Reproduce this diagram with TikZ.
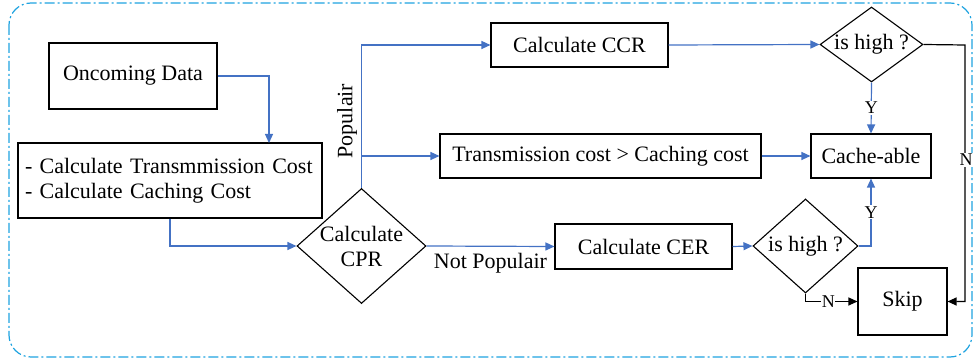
\documentclass[tikz,border=0pt]{standalone}
\usepackage{fontspec}
\setmainfont{Liberation Serif}
\usetikzlibrary{arrows.meta,shapes.geometric}
\definecolor{lineblue}{HTML}{4472C4}
\definecolor{frameblue}{HTML}{1FA3E0}
\tikzset{
  box/.style={draw=black, line width=1.1pt, rectangle, inner sep=0pt, font=\fontsize{22}{25}\selectfont},
  dia/.style={draw=black, line width=1.1pt, diamond, inner sep=0pt, shape aspect=1},
  txt/.style={font=\fontsize{22}{25}\selectfont, align=center, inner sep=0pt},
  yn/.style={font=\fontsize{18}{20}\selectfont, fill=white, inner sep=1pt},
  bl/.style={draw=lineblue, line width=1.2pt, -{Triangle[length=9pt,width=8pt]}},
  bk/.style={draw=black, line width=1.2pt, -{Triangle[length=9pt,width=8pt]}},
}
\begin{document}
\begin{tikzpicture}[x=1pt,y=-1pt]
\useasboundingbox (0,0) rectangle (975,363);
\draw[frameblue, line width=1.2pt, rounded corners=22pt, dash pattern=on 10pt off 3pt on 2pt off 3pt] (9,3) rectangle (972,357);

\node[box, minimum width=168pt, minimum height=66pt] (od) at (133,76) {Oncoming Data};
\node[box, minimum width=304pt, minimum height=75pt, align=left, text width=290pt] (cc) at (170,180.5) {- Calculate Transmmission Cost\\- Calculate Caching Cost};
\node[dia, minimum width=129pt, minimum height=115pt] (cpr) at (361.5,246) {};
\node[txt] (cprt) at (cpr) {Calculate\\CPR};
\node[box, minimum width=177pt, minimum height=44pt] (ccr) at (579.5,45) {Calculate CCR};
\node[box, minimum width=321pt, minimum height=44pt] (tc) at (600.5,156) {Transmission cost > Caching cost};
\node[box, minimum width=177pt, minimum height=45pt] (cer) at (643.5,246.5) {Calculate CER};
\node[dia, minimum width=103pt, minimum height=75pt] (h1) at (871.5,44.5) {};
\node[txt] (h1t) at (h1) {is high ?};
\node[box, minimum width=120pt, minimum height=44pt] (ca) at (871,156) {Cache-able};
\node[dia, minimum width=105pt, minimum height=94pt] (h2) at (805.5,246) {};
\node[txt] (h2t) at (h2) {is high ?};
\node[box, minimum width=89pt, minimum height=67pt] (sk) at (902.5,301.5) {Skip};

\coordinate (pj) at (361.5,156);
\coordinate (ddown) at (269,143);
\coordinate (nr) at (965,45);
\draw[bl] (od.east) -| (ddown);
\draw[bl] (cc.south) |- (cpr.west);
\draw[bl] (cpr.north) |- (ccr.west);
\draw[bl] (pj) -- (tc.west);
\node[txt, rotate=90] (pop) at (347,121) {Populair};
\draw[bl] (cpr.east) -- node[txt, below=6pt] (np) {Not Populair} (cer.west);
\draw[bl] (ccr.east) -- (h1.west);
\draw[bl] (h1.south) -- node[yn] (y1) {Y} (ca.north);
\draw[bl] (tc.east) -- (ca.west);
\draw[bl] (cer.east) -- (h2.west);
\draw[bl] (h2.east) -| node[yn, pos=0.75] (y2) {Y} (ca.south);
\draw[bk] (h2.south) |- node[yn, pos=0.72, inner sep=0.5pt] (n1) {N} (sk.west);
\draw[bk] (h1.east) -- (nr) -- (nr |- sk.east) -- (sk.east);
\node[yn] (n2) at (966,160) {N};
\end{tikzpicture}
\end{document}
